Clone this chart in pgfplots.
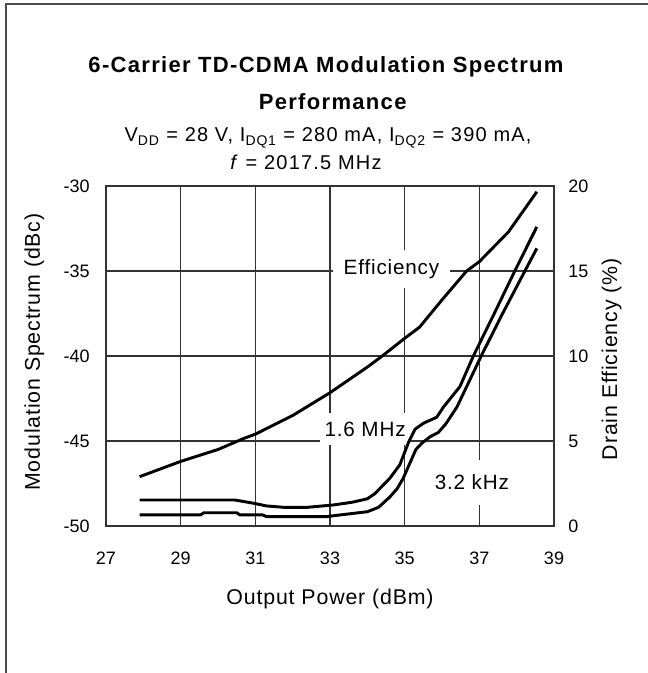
\documentclass[border=0pt]{standalone}
\usepackage{fontspec}
\setmainfont{Liberation Sans}
\newfontfamily\spA[LetterSpace=4]{Liberation Sans}
\newfontfamily\spS[LetterSpace=6]{Liberation Sans}
\newfontfamily\spT[LetterSpace=6]{Liberation Sans}
\usepackage{pgfplots}
\pgfplotsset{compat=1.18}
\pgfplotstableread{
x y
27.9 -48.47
30.45 -48.47
30.95 -48.66
31.3 -48.82
31.75 -48.9
32.4 -48.9
33.1 -48.76
33.6 -48.6
34.0 -48.4
34.2 -48.1
34.6 -47.2
34.87 -46.4
35.1 -45.1
35.28 -44.3
35.5 -43.96
35.86 -43.6
36.04 -43.0
36.48 -41.8
36.84 -40.0
37.4 -37.5
37.95 -35.0
38.54 -32.4
}\mhz
\pgfplotstableread{
x y
27.9 -49.35
29.53 -49.35
29.62 -49.22
30.5 -49.22
30.59 -49.35
31.2 -49.35
31.3 -49.45
32.9 -49.45
33.27 -49.35
34.0 -49.16
34.3 -48.9
34.6 -48.3
34.8 -47.8
34.96 -47.2
35.14 -46.3
35.3 -45.5
35.46 -45.13
35.68 -44.75
35.9 -44.5
36.1 -44.0
36.4 -43.0
36.66 -41.8
37.05 -40.0
37.6 -37.6
38.22 -35.0
38.54 -33.67
}\khz
\pgfplotstableread{
x y
27.9 2.9
29.0 3.8
30.0 4.5
30.7 5.16
31.0 5.4
32.0 6.5
33.0 7.84
34.0 9.35
34.4 10.0
35.0 11.04
35.4 11.7
36.0 13.3
36.66 15.0
37.0 15.55
37.78 17.3
38.54 19.66
}\eff
\begin{document}
\begin{tikzpicture}
\useasboundingbox (-79.5pt,-110.25pt) rectangle (406.5pt,394.5pt);
\draw[line width=1.1pt, black!70] (-75pt,-110.25pt) -- (-75pt,391.5pt) -- (406.5pt,391.5pt);
\begin{axis}[
  at={(0pt,0pt)}, anchor=south west, scale only axis,
  width=336pt, height=255pt,
  xmin=27, xmax=39, ymin=-50, ymax=-30,
  xtick={27,29,...,39}, ytick={-50,-45,...,-30},
  grid=major, major grid style={line width=0.9pt, black!80},
  axis line style={line width=0.9pt, black!80},
  major tick length=0pt,
  tick label style={font=\fontsize{13.5}{15}\selectfont, /pgf/number format/assume math mode=true},
  xticklabel style={anchor=north, inner sep=0pt, yshift=-19.3pt},
  yticklabel style={anchor=east, inner sep=0pt, xshift=-12pt},
]
\node[fill=white, inner sep=0pt, minimum width=87.75pt, minimum height=28.5pt, font=\spA\fontsize{15.5}{18}\selectfont] at (axis cs:34.647,-34.88) {Efficiency};
\node[fill=white, inner sep=0pt, minimum width=67.5pt, minimum height=24pt, font=\spA\fontsize{15.5}{18}\selectfont] at (axis cs:33.94,-44.29) {1.6 MHz};
\node[fill=white, inner sep=0pt, minimum width=60pt, minimum height=34pt, font=\spA\fontsize{15.5}{18}\selectfont] at (axis cs:36.80,-47.44) {3.2 kHz};
\addplot[black, line width=2.2pt, line join=round] table {\mhz};
\addplot[black, line width=2.2pt, line join=round] table {\khz};
\end{axis}
\begin{axis}[
  at={(0pt,0pt)}, anchor=south west, scale only axis,
  width=336pt, height=255pt,
  xmin=27, xmax=39, ymin=0, ymax=20,
  axis x line=none, axis y line*=right,
  ytick={0,5,...,20},
  axis line style={line width=0.9pt, black!80},
  major tick length=0pt,
  tick label style={font=\fontsize{13.5}{15}\selectfont, /pgf/number format/assume math mode=true},
  yticklabel style={anchor=west, inner sep=0pt, xshift=10.5pt},
]
\addplot[black, line width=2.2pt, line join=round] table {\eff};
\end{axis}
\node[anchor=base, font=\spT\bfseries\fontsize{16.5}{18}\selectfont] at (165pt,339.75pt) {6-Carrier TD-CDMA Modulation Spectrum};
\node[anchor=base, font=\spT\bfseries\fontsize{16.5}{18}\selectfont] at (170pt,312pt) {Performance};
\node[anchor=base, font=\spS\fontsize{15}{16}\selectfont] at (166.5pt,288pt) {V\textsubscript{DD} = 28 V, I\textsubscript{DQ1} = 280 mA, I\textsubscript{DQ2} = 390 mA,};
\node[anchor=base, font=\spS\fontsize{15}{16}\selectfont] at (150pt,267pt) {\textit{f} = 2017.5 MHz};
\node[anchor=base, font=\spA\fontsize{16}{18}\selectfont] at (168pt,-58.5pt) {Output Power (dBm)};
\node[anchor=base, rotate=90, font=\spA\fontsize{16}{18}\selectfont] at (-49.5pt,130.5pt) {Modulation Spectrum (dBc)};
\node[anchor=base, rotate=90, font=\spA\fontsize{16}{18}\selectfont] at (383.25pt,125pt) {Drain Efficiency (\%)};
\end{tikzpicture}
\end{document}
